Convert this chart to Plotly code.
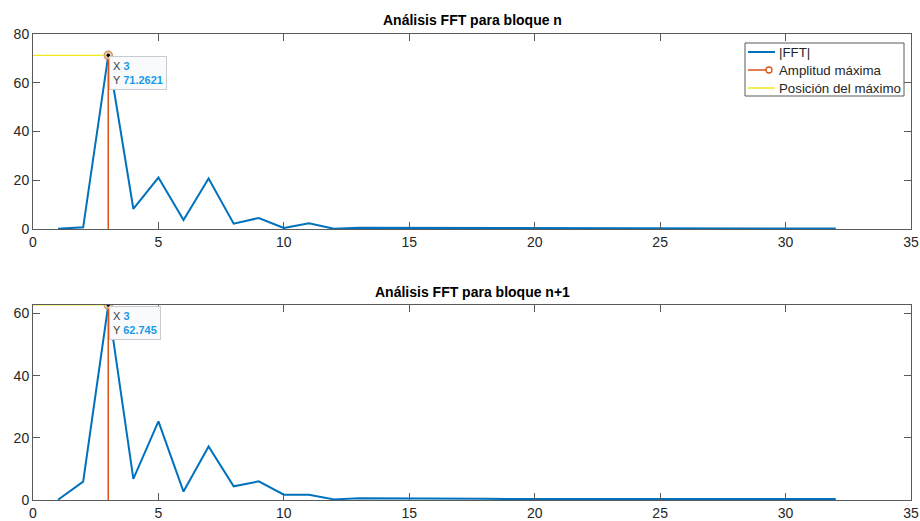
import plotly.graph_objects as go

# Bin indices and FFT magnitudes for the two consecutive blocks
bins = list(range(1, 33))
fft_n = [0.1, 0.7, 71.2621, 8.3, 21.1, 3.7, 20.7, 2.2, 4.5, 0.4, 2.3, 0.1,
         0.5, 0.5, 0.5, 0.4, 0.3, 0.3, 0.3, 0.3, 0.3, 0.3, 0.3, 0.2,
         0.2, 0.2, 0.2, 0.2, 0.2, 0.2, 0.2, 0.2]
fft_n1 = [0.1, 5.9, 62.745, 6.8, 25.3, 2.7, 17.2, 4.4, 6.0, 1.7, 1.7, 0.2,
          0.6, 0.6, 0.4, 0.4, 0.4, 0.4, 0.3, 0.3, 0.3, 0.3, 0.3, 0.3,
          0.3, 0.3, 0.3, 0.3, 0.3, 0.3, 0.3, 0.3]
titles = ["Análisis FFT para bloque n", "Análisis FFT para bloque n+1"]
legend_labels = ["|FFT|", "Amplitud máxima", "Posición del máximo"]
x_ticks = [0, 5, 10, 15, 20, 25, 30, 35]
y_ticks_top = [0, 20, 40, 60, 80]
y_ticks_bottom = [0, 20, 40, 60]

BLUE = "#0072BD"
ORANGE = "#D95319"
YELLOW = "#EEEA1C"
AXIS = "#262626"
FONT = "Liberation Sans, Arial, sans-serif"

W, H = 920, 521
ML, MR, MT, MB = 33, 9, 34, 21
PW, PH = W - ML - MR, H - MT - MB


def px_x(p):
    return (p - ML) / PW


def px_y(p):
    return (H - MB - p) / PH


fig = go.Figure()

blocks = [(fft_n, "x", "y"), (fft_n1, "x2", "y2")]
for vals, xa, ya in blocks:
    k = max(range(len(vals)), key=lambda j: vals[j])
    xpk, ypk = bins[k], vals[k]
    fig.add_trace(go.Scatter(x=bins, y=vals, mode="lines", name=legend_labels[0],
                             line=dict(color=BLUE, width=2),
                             xaxis=xa, yaxis=ya))
    fig.add_trace(go.Scatter(x=[xpk, xpk], y=[0, ypk], mode="lines+markers",
                             name=legend_labels[1],
                             line=dict(color=ORANGE, width=1.5),
                             marker=dict(symbol="circle-open", size=[0, 8],
                                         color=ORANGE, line=dict(width=1.5)),
                             xaxis=xa, yaxis=ya))
    fig.add_trace(go.Scatter(x=[0, xpk], y=[ypk, ypk], mode="lines",
                             name=legend_labels[2],
                             line=dict(color=YELLOW, width=1.2),
                             xaxis=xa, yaxis=ya))
    # data tip marker at the peak
    fig.add_trace(go.Scatter(x=[xpk], y=[ypk], mode="markers",
                             marker=dict(size=8, color="rgba(230,200,160,0.8)",
                                         line=dict(color="#c8a070", width=1)),
                             xaxis=xa, yaxis=ya))
    fig.add_trace(go.Scatter(x=[xpk], y=[ypk], mode="markers",
                             marker=dict(size=3.5, color="black"),
                             xaxis=xa, yaxis=ya))
    fig.add_annotation(
        x=xpk, y=ypk, xref=xa, yref=ya, xanchor="left", yanchor="top",
        xshift=1, yshift=-1, showarrow=False, align="left",
        text=(f"<span style='color:#404040'>X</span> "
              f"<b><span style='color:#1a9ae6'>{xpk:g}</span></b><br>"
              f"<span style='color:#404040'>Y</span> "
              f"<b><span style='color:#1a9ae6'>{ypk:.6g}</span></b>"),
        font=dict(family=FONT, size=11),
        bgcolor="#f9fafc", bordercolor="#c8ccd2", borderwidth=1, borderpad=3,
    )

axis_common = dict(showgrid=False, zeroline=False, showline=True,
                   linecolor="#5a5a5a", linewidth=1, mirror="ticks",
                   ticks="inside", ticklen=7, tickcolor="#5a5a5a",
                   automargin=False,
                   tickfont=dict(family=FONT, size=14, color=AXIS))

fig.update_layout(
    width=W, height=H,
    margin=dict(l=ML, r=MR, t=MT, b=MB),
    paper_bgcolor="white", plot_bgcolor="white",
    showlegend=False,
    xaxis=dict(domain=[0, 1], range=[0, 35], tickvals=x_ticks, anchor="y",
               **axis_common),
    yaxis=dict(domain=[px_y(229), 1], range=[0, 80], tickvals=y_ticks_top,
               anchor="x", **axis_common),
    xaxis2=dict(domain=[0, 1], range=[0, 35], tickvals=x_ticks, anchor="y2",
                **axis_common),
    yaxis2=dict(domain=[0, px_y(305)], range=[0, 62.745],
                tickvals=y_ticks_bottom, anchor="x2", **axis_common),
)

# Legend box drawn in paper coordinates
lx0, lx1, ly0, ly1 = 745, 904, 43, 96
fig.add_shape(type="rect", xref="paper", yref="paper",
              x0=px_x(lx0), x1=px_x(lx1), y0=px_y(ly1), y1=px_y(ly0),
              line=dict(color="#5a5a5a", width=1), fillcolor="white", layer="above")
rows = [52, 70, 88]
colors = [BLUE, ORANGE, YELLOW]
widths = [2, 1.5, 1.5]
line_ends = [775, 766, 775]
for label, row, col, lw, xe in zip(legend_labels, rows, colors, widths, line_ends):
    fig.add_shape(type="line", xref="paper", yref="paper",
                  x0=px_x(748), x1=px_x(xe), y0=px_y(row), y1=px_y(row),
                  line=dict(color=col, width=lw), layer="above")
    fig.add_annotation(text=label, x=px_x(777), y=px_y(row), xref="paper",
                       yref="paper", xanchor="left", yanchor="middle",
                       showarrow=False,
                       font=dict(family=FONT, size=13.3, color=AXIS))
# circle marker on the stem legend sample
fig.add_shape(type="circle", xref="paper", yref="paper",
              x0=px_x(766), x1=px_x(772), y0=px_y(73), y1=px_y(67),
              line=dict(color=ORANGE, width=1.3), fillcolor="white", layer="above")

for title, ypos in zip(titles, [20, 292]):
    fig.add_annotation(text=f"<b>{title}</b>", x=0.5, y=px_y(ypos), xref="paper",
                       yref="paper", showarrow=False, yanchor="middle",
                       font=dict(family=FONT, size=14, color="black"))

fig.write_html("out.html")
